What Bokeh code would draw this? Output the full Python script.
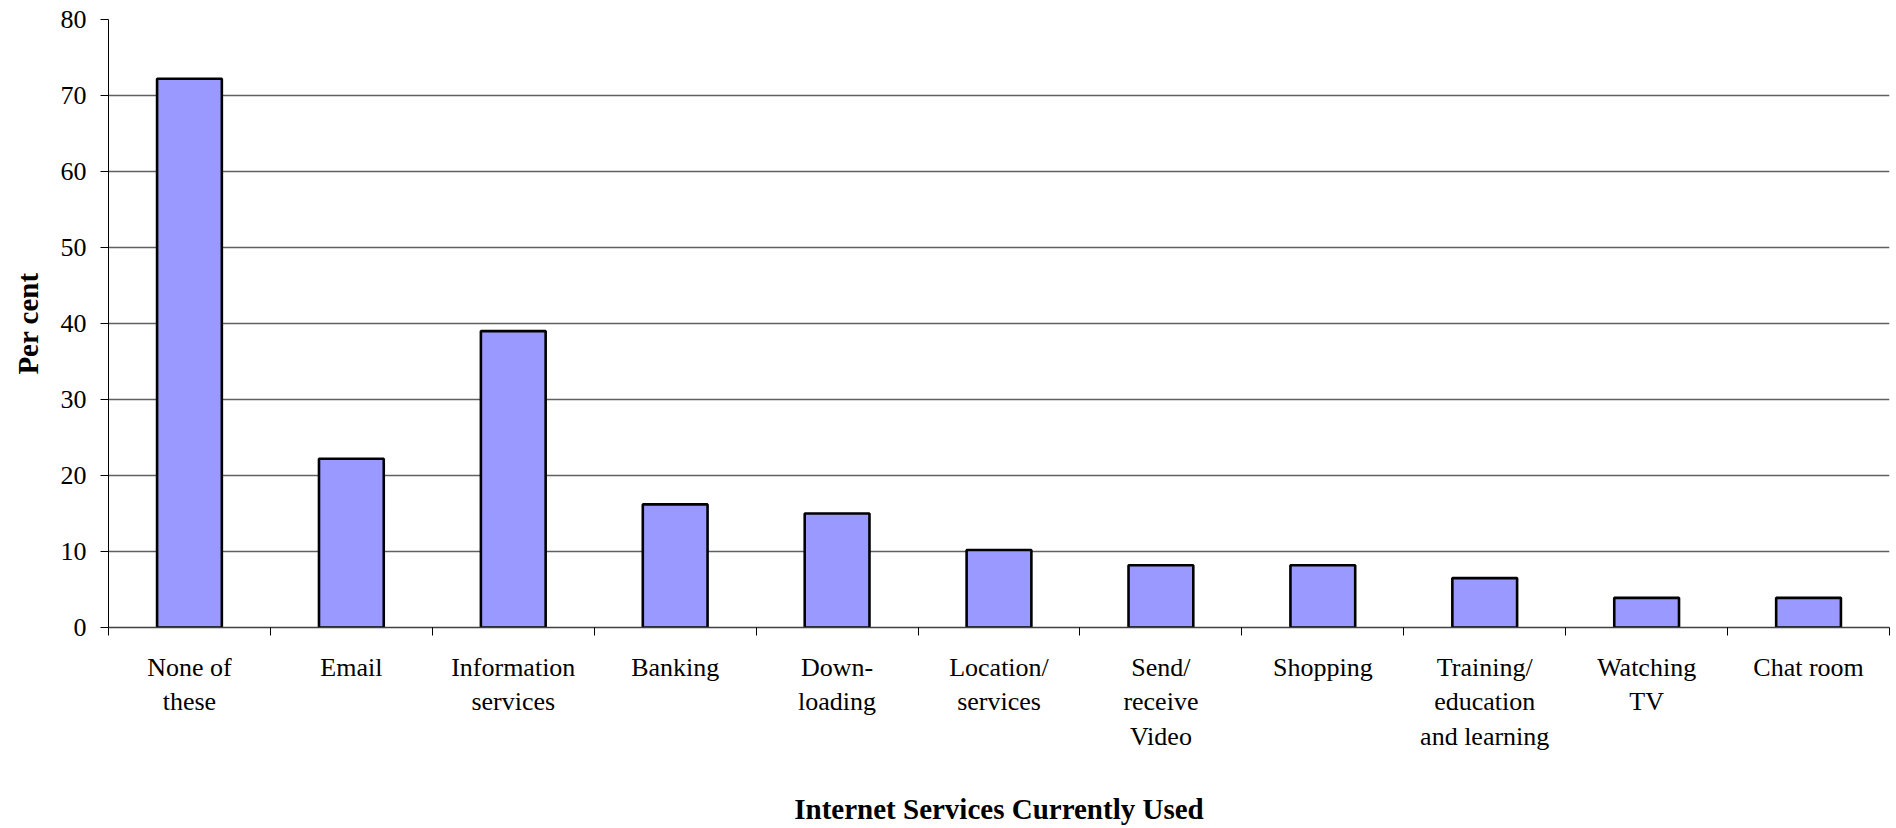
from bokeh.plotting import figure
from bokeh.models import FixedTicker, Range1d
from bokeh.embed import file_html
from bokeh.resources import INLINE

# ---- data ----
labels = ["None of\nthese", "Email", "Information\nservices", "Banking", "Down-\nloading",
          "Location/\nservices", "Send/\nreceive\nVideo", "Shopping",
          "Training/\neducation\nand learning", "Watching\nTV", "Chat room"]
values = [72.2, 22.2, 39.0, 16.2, 15.0, 10.2, 8.2, 8.2, 6.5, 3.9, 3.9]
y_ticks = [0, 10, 20, 30, 40, 50, 60, 70, 80]
x_title = "Internet Services Currently Used"
y_title = "Per cent"

n = len(labels)
centers = [i + 0.5 for i in range(n)]
bounds = list(range(n + 1))

FONT = "Liberation Serif"

p = figure(width=1896, height=828, output_backend="svg", toolbar_location=None,
           x_range=Range1d(0, n), y_range=Range1d(0, 80),
           min_border_left=108, min_border_right=7, min_border_top=19,
           min_border_bottom=201)
p.background_fill_color = "white"
p.border_fill_color = "white"
p.outline_line_color = None

p.vbar(x=centers, top=values, bottom=0, width=0.4,
       fill_color="#9999FF", line_color="black", line_width=2.6)

# grid
p.xgrid.visible = False
p.ygrid.ticker = FixedTicker(ticks=y_ticks)
p.ygrid.grid_line_color = "#606060"
p.ygrid.grid_line_width = 1.3

# y axis
ya = p.yaxis[0]
ya.ticker = FixedTicker(ticks=y_ticks)
ya.major_tick_out = 8
ya.major_tick_in = 0
ya.minor_tick_out = 0
ya.minor_tick_in = 0
ya.axis_line_color = "black"
ya.major_tick_line_color = "black"
ya.major_label_text_font = FONT
ya.major_label_text_font_size = "26px"
ya.major_label_text_color = "black"
ya.major_label_standoff = 14
ya.axis_label = y_title
ya.axis_label_text_font = FONT
ya.axis_label_text_font_size = "29px"
ya.axis_label_text_font_style = "bold"
ya.axis_label_text_color = "black"
ya.axis_label_standoff = 14

# x axis
xa = p.xaxis[0]
xa.ticker = FixedTicker(ticks=centers, minor_ticks=bounds)
xa.major_label_overrides = {c: l for c, l in zip(centers, labels)}
xa.major_tick_out = 0
xa.major_tick_in = 0
xa.minor_tick_out = 8
xa.minor_tick_in = 0
xa.minor_tick_line_color = "black"
xa.axis_line_color = "#404040"
xa.axis_line_width = 1.3
xa.major_label_text_font = FONT
xa.major_label_text_font_size = "26px"
xa.major_label_text_color = "black"
xa.major_label_standoff = 17
xa.axis_label = x_title
xa.axis_label_text_font = FONT
xa.axis_label_text_font_size = "29px"
xa.axis_label_text_font_style = "bold"
xa.axis_label_text_color = "black"
xa.axis_label_standoff = 39

open("out.html", "w").write(file_html(p, INLINE))
